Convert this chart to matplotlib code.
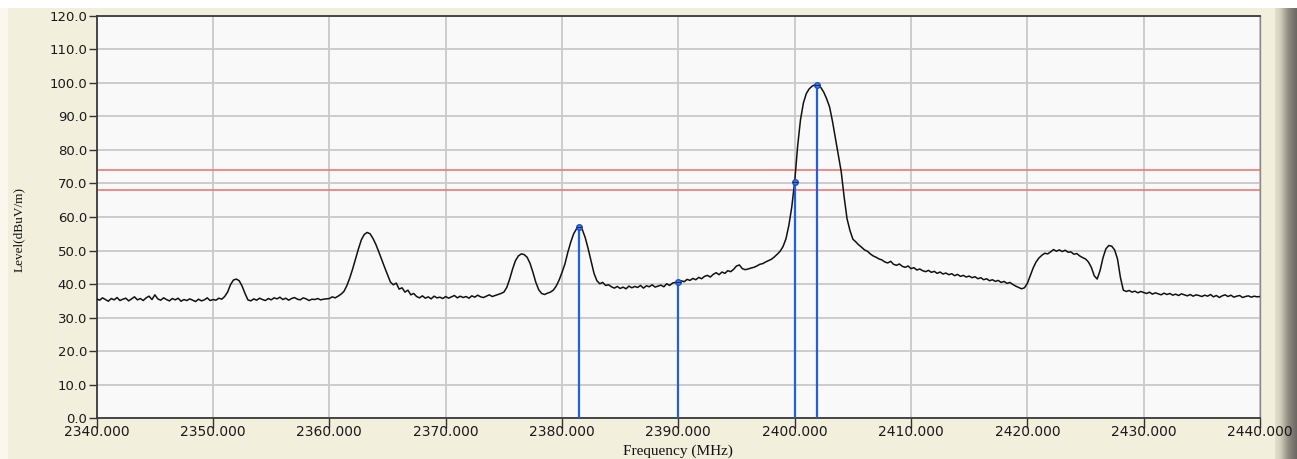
import numpy as np
import matplotlib
matplotlib.use("Agg")
import matplotlib.pyplot as plt
from matplotlib.patches import Rectangle
from matplotlib.colors import LinearSegmentedColormap

# ---------------- data ----------------
freq_start = 2340.0
freq_step = 0.25
level = [
    # 2340.00 - 2344.75
    35.6, 35.2, 35.9, 35.4, 34.9, 35.7, 35.3, 36.0, 35.1, 35.5, 35.8, 35.0, 35.6, 36.2, 35.3, 35.7, 35.1, 35.9, 36.4, 35.4,
    # 2345
    36.8, 35.6, 35.2, 35.9, 35.4, 35.0, 35.7, 35.3, 35.8, 34.9, 35.4, 35.1, 35.6, 35.2, 34.8, 35.5, 35.0, 35.3, 35.9, 35.1,
    # 2350
    35.4, 35.2, 35.8, 35.5, 36.3, 37.6, 39.8, 41.2, 41.5, 41.0, 39.4, 37.2, 35.3, 35.0, 35.6, 35.2, 35.8, 35.4, 35.1, 35.7,
    # 2355
    35.3, 35.9, 35.6, 36.1, 35.4, 35.8, 35.2, 35.7, 36.0, 35.5, 35.3, 35.9, 35.6, 35.1, 35.5, 35.4, 35.7, 35.3, 35.5, 35.6,
    # 2360
    35.7, 36.2, 35.9, 36.4, 37.0, 37.8, 39.5, 41.8, 44.5, 47.5, 50.5, 53.2, 54.8, 55.4, 55.0, 53.6, 51.8, 49.6, 47.3, 45.0,
    # 2365
    42.8, 40.6, 39.8, 40.3, 38.5, 38.9, 37.6, 38.2, 36.8, 37.2, 36.3, 35.9, 36.5, 35.8, 36.2, 35.6, 36.4, 35.9, 36.1, 35.7,
    # 2370
    36.3, 35.8, 36.2, 36.6, 35.9, 36.4, 36.0, 36.3, 35.8, 36.5, 36.1, 36.7, 36.2, 36.0, 36.4, 36.8, 36.3, 36.6, 36.9, 37.2,
    # 2375
    37.6, 39.0, 41.5, 44.5, 47.0, 48.4, 49.0, 48.8, 48.0, 46.2, 43.5, 40.5, 38.3, 37.2, 36.9, 37.3, 37.6, 38.2, 39.4, 41.2,
    # 2380
    43.5, 46.0, 49.5, 52.5, 55.0, 56.5, 57.0, 56.2, 53.8, 50.5, 46.8, 43.2, 41.0, 40.1, 40.5, 39.6, 39.8, 39.2, 38.8, 39.3,
    # 2385
    38.7, 39.1, 38.6, 39.4, 38.9, 39.3, 39.0, 39.6, 38.8, 39.5, 39.2, 39.8, 39.1, 39.4, 39.7, 39.2, 40.1, 39.6, 40.3, 40.5,
    # 2390
    40.6, 41.0, 40.7, 41.4, 41.1, 41.7, 41.3, 42.0, 41.6, 42.3, 42.6, 42.1, 42.9, 43.4, 42.8, 43.6, 43.2, 44.0, 43.7, 44.4,
    # 2395
    45.4, 45.7, 44.6, 44.3, 44.5, 44.8, 45.0, 45.4, 45.9, 46.1, 46.6, 47.0, 47.4, 48.1, 48.9, 49.8, 51.2, 53.5, 57.5, 63.0,
    # 2400
    70.5, 81.0, 89.0, 94.0, 96.8, 98.2, 99.0, 99.4, 99.3, 98.6, 97.2, 95.2, 92.8, 88.5, 83.5, 78.5, 73.5, 66.0, 59.5, 56.0,
    # 2405
    53.4, 52.6, 51.7, 51.0, 50.2, 49.8, 49.0, 48.4, 48.0, 47.5, 47.2, 46.6, 46.3, 46.8, 45.9, 45.6, 46.0, 45.3, 45.0, 45.4,
    # 2410
    44.6, 44.9, 44.2, 44.5, 44.0, 43.7, 44.1, 43.5, 43.8, 43.2, 43.6, 43.0, 43.3, 42.8, 43.1, 42.5, 42.9, 42.3, 42.6, 42.1,
    # 2415
    42.4, 41.9, 42.2, 41.6, 41.9, 41.3, 41.6, 41.0, 41.3, 40.8, 41.1, 40.5, 40.8, 40.2, 40.5, 39.9, 39.4, 39.0, 38.6, 38.9,
    # 2420
    40.2, 42.5, 44.8, 46.6, 47.8, 48.6, 49.2, 49.0, 49.6, 50.3, 49.8, 50.2, 49.7, 50.1, 49.5, 49.6, 48.9, 49.1, 48.4, 47.9,
    # 2425
    47.5, 46.6, 45.0, 42.5, 41.5, 44.0, 47.8, 50.5, 51.5, 51.3, 50.2, 47.5, 42.0, 38.2, 37.8, 38.1, 37.6, 37.9, 37.4, 37.8,
    # 2430
    37.5, 37.2, 37.6, 37.0, 37.4, 37.1, 36.8, 37.3, 36.9, 37.2, 36.7, 37.0, 36.6, 37.1, 36.8, 36.5, 36.9, 36.4, 36.8, 36.6,
    # 2435 - 2440
    36.3, 36.7, 36.4, 36.9, 36.2, 36.6, 36.0, 36.5, 36.8, 36.3, 36.7, 36.1, 36.4, 36.6, 36.0, 36.3, 36.5, 36.1, 36.4, 36.2,
    36.3,
]
marker_freq = [2381.5, 2390.0, 2400.0, 2401.9]
marker_level = [57.0, 40.7, 70.5, 99.4]
limit_lines = [74.0, 68.0]
x_ticks = [2340, 2350, 2360, 2370, 2380, 2390, 2400, 2410, 2420, 2430, 2440]
y_ticks = [0, 10, 20, 30, 40, 50, 60, 70, 80, 90, 100, 110, 120]
x_label = "Frequency (MHz)"
y_label = "Level(dBuV/m)"

freq = freq_start + freq_step * np.arange(len(level))

# ---------------- figure ----------------
W, H = 1297, 459
fig = plt.figure(figsize=(W / 100, H / 100), dpi=100, facecolor="white")

# background panel drawn in a figure-wide axes underneath everything
bg = fig.add_axes([0, 0, 1, 1], zorder=-10)
bg.set_axis_off()
bg.add_patch(Rectangle((0, 8), 1275, 451, facecolor="#F2EFDD", edgecolor="none"))
bg.add_patch(Rectangle((0, 8), 8, 451, facecolor="#FAF8EC", edgecolor="none"))
grad = np.linspace(0, 1, 64)[None, :]
cm = LinearSegmentedColormap.from_list("bar", ["#EDE9D6", "#D2CFBE", "#8E8B80", "#6A6860"])
bg.imshow(grad, aspect="auto", cmap=cm, extent=[1272, 1297, 459, 8])
bg.set_xlim(0, W)
bg.set_ylim(H, 0)

ax = fig.add_axes([96.7 / W, 1 - 418.3 / H, (1260 - 96.7) / W, (418.3 - 15.7) / H], zorder=5)
ax.set_facecolor("#F9F9F9")
ax.set_xlim(2340, 2440)
ax.set_ylim(0, 120)

ax.set_xticks(x_ticks)
ax.set_xticklabels([f"{t:.3f}" for t in x_ticks])
ax.set_yticks(y_ticks)
ax.set_yticklabels([f"{t:.1f}" for t in y_ticks])
ax.grid(True, color="#C9C9C9", linewidth=1.3)
ax.set_axisbelow(True)

ax.tick_params(axis="y", direction="out", length=6, width=1, color="#333333",
               labelsize=9.5, labelcolor="#1A1A1A", pad=1)
ax.tick_params(axis="x", direction="out", length=7, width=1, color="#333333",
               labelsize=10, labelcolor="#1A1A1A", pad=-2.5)
for lab in ax.get_xticklabels() + ax.get_yticklabels():
    lab.set_family("DejaVu Sans")

for side in ["left", "bottom", "top"]:
    ax.spines[side].set_color("#3A3A3A")
    ax.spines[side].set_linewidth(1.3)
ax.spines["right"].set_color("#8A8A8A")
ax.spines["right"].set_linewidth(1.0)

for yl in limit_lines:
    ax.axhline(yl, color="#F07878", linewidth=1.2, zorder=2)

ax.plot(freq, level, color="#111111", linewidth=1.1, zorder=3)

ax.vlines(marker_freq, 0, marker_level, color="#2160D8", linewidth=1.6, zorder=4)
ax.plot(marker_freq, marker_level, linestyle="none", marker="o", markersize=4,
        markerfacecolor="#4A7FE0", markeredgecolor="#1E50C0", markeredgewidth=1, zorder=5)
ax.plot(marker_freq, marker_level, linestyle="none", marker="_", markersize=5,
        color="#0A2A80", markeredgewidth=0.8, zorder=6)

ax.set_xlabel(x_label, family="Liberation Serif", fontsize=11, color="#111111", labelpad=4)
ax.set_ylabel(y_label, family="Liberation Serif", fontsize=9.5, color="#111111")
ax.yaxis.set_label_coords(-0.0615, 0.47)

fig.savefig("out.png", dpi=100, facecolor="white")
